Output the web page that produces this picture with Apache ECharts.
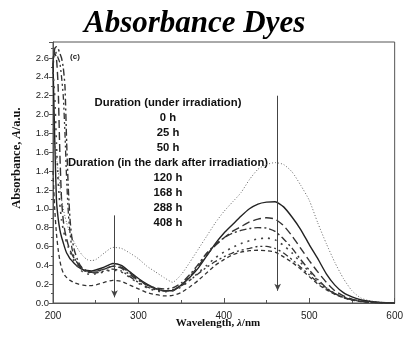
<!DOCTYPE html>
<html>
<head>
<meta charset="utf-8">
<script src="https://cdn.jsdelivr.net/npm/echarts@6/dist/echarts.min.js"></script>
<style>
  html, body { margin: 0; padding: 0; background: #fff; }
  #chart { width: 406px; height: 339px; }
</style>
</head>
<body>
<div id="chart"></div>
<script>
// wavelength grid (nm)
const wl = [200,202,204,206,208,210,212,214,216,218,220,222,225,230,235,240,245,250,260,270,280,290,300,310,320,330,340,350,360,370,380,390,400,410,420,430,440,450,460,470,480,490,500,510,520,530,540,550,560,570,580,590,600];

// absorbance, one array per curve
const dotted = [1.85,1.70,1.55,1.40,1.25,1.10,1.00,0.92,0.85,0.79,0.74,0.70,0.64,0.56,0.50,0.46,0.45,0.46,0.53,0.59,0.58,0.53,0.47,0.39,0.33,0.27,0.22,0.30,0.43,0.57,0.71,0.85,0.97,1.07,1.17,1.31,1.42,1.47,1.49,1.47,1.39,1.25,1.09,0.85,0.63,0.43,0.26,0.13,0.055,0.025,0.01,0.004,0];
const solid = [2.55,1.75,1.10,0.90,0.78,0.70,0.64,0.58,0.53,0.50,0.47,0.45,0.42,0.38,0.355,0.345,0.34,0.35,0.38,0.42,0.40,0.33,0.26,0.20,0.155,0.13,0.13,0.19,0.27,0.37,0.50,0.63,0.74,0.83,0.92,1.00,1.05,1.07,1.075,1.02,0.91,0.78,0.62,0.47,0.31,0.19,0.11,0.065,0.035,0.018,0.008,0.003,0];
const longDash = [2.60,2.65,2.60,2.30,1.60,1.10,0.88,0.76,0.68,0.61,0.56,0.52,0.47,0.41,0.37,0.34,0.33,0.335,0.36,0.39,0.38,0.32,0.25,0.19,0.15,0.13,0.135,0.19,0.28,0.39,0.51,0.61,0.69,0.76,0.81,0.86,0.89,0.905,0.89,0.82,0.71,0.58,0.45,0.33,0.22,0.13,0.075,0.04,0.022,0.01,0.005,0.002,0];
const dashDot = [2.50,2.70,2.72,2.70,2.65,2.60,2.50,2.30,1.70,1.20,0.88,0.70,0.56,0.43,0.36,0.33,0.325,0.33,0.36,0.39,0.37,0.30,0.24,0.19,0.16,0.15,0.16,0.21,0.30,0.41,0.53,0.62,0.69,0.74,0.77,0.79,0.80,0.795,0.76,0.68,0.58,0.46,0.35,0.25,0.16,0.10,0.06,0.035,0.02,0.01,0.005,0.002,0];
const sparseDot = [2.45,2.20,1.70,1.30,1.05,0.88,0.78,0.70,0.64,0.59,0.54,0.50,0.44,0.37,0.33,0.31,0.30,0.31,0.33,0.35,0.33,0.27,0.21,0.16,0.13,0.12,0.13,0.17,0.24,0.32,0.40,0.48,0.54,0.59,0.63,0.66,0.68,0.69,0.67,0.61,0.53,0.43,0.33,0.24,0.16,0.10,0.06,0.035,0.018,0.008,0.004,0.001,0];
const dashDotDot = [2.55,2.68,2.65,2.60,2.55,2.40,2.20,1.80,1.30,0.95,0.74,0.59,0.48,0.40,0.35,0.33,0.32,0.32,0.34,0.36,0.34,0.28,0.22,0.17,0.14,0.13,0.14,0.18,0.24,0.31,0.38,0.44,0.49,0.53,0.56,0.58,0.60,0.60,0.58,0.53,0.46,0.38,0.30,0.22,0.15,0.10,0.06,0.035,0.018,0.008,0.004,0.001,0];
const shortDash = [1.40,1.00,0.74,0.57,0.45,0.37,0.32,0.29,0.27,0.25,0.24,0.23,0.215,0.20,0.19,0.185,0.185,0.19,0.22,0.24,0.23,0.19,0.15,0.11,0.09,0.075,0.08,0.11,0.17,0.24,0.32,0.40,0.46,0.51,0.54,0.555,0.56,0.555,0.54,0.49,0.43,0.36,0.28,0.20,0.14,0.09,0.055,0.03,0.016,0.008,0.004,0.001,0];

// arrows [wavelength, from, to]
const arrows = [[272, 0.93, 0.06], [463, 2.2, 0.13]];

const notes = ['Duration (under irradiation)', '0 h', '25 h', '50 h',
  'Duration (in the dark after irradiation)', '120 h', '168 h', '288 h', '408 h'];

const pairs = arr => arr.map((v, i) => [wl[i], v]);

const chart = echarts.init(document.getElementById('chart'));

function line(data, type, width, color) {
  return {
    type: 'line', data: pairs(data), showSymbol: false, smooth: 0.2,
    lineStyle: { type: type, width: width, color: color },
    animation: false
  };
}

const series = [
  line(dotted, [1, 2], 1, '#666'),
  line(solid, 'solid', 1.4, '#222'),
  line(longDash, [8, 4], 1.4, '#333'),
  line(dashDot, [7, 3, 2, 3], 1.4, '#333'),
  line(sparseDot, [2, 5], 1.6, '#444'),
  line(dashDotDot, [6, 3, 2, 3, 2, 3], 1.3, '#333'),
  line(shortDash, [4, 3], 1.3, '#333')
];

series[1].markLine = {
  silent: true,
  symbol: ['none', 'arrow'],
  symbolSize: [5, 7],
  label: { show: false },
  lineStyle: { type: 'solid', color: '#444', width: 1 },
  data: arrows.map(a => [{ coord: [a[0], a[1]] }, { coord: [a[0], a[2]] }])
};

const noteText = notes.map((t, i) => ({
  type: 'text', x: 168, y: 103 + i * 15,
  style: {
    text: t, fill: '#111', font: 'bold 11.3px "Liberation Sans", Arial',
    textAlign: 'center', textVerticalAlign: 'middle'
  }
}));

chart.setOption({
  animation: false,
  title: {
    text: 'Absorbance Dyes', left: 79, top: 3,
    textStyle: { fontFamily: 'Liberation Serif', fontStyle: 'italic', fontWeight: 'bold', fontSize: 31, color: '#000' }
  },
  grid: { left: 53, right: 11, top: 42, bottom: 36, show: true, borderColor: '#555', borderWidth: 1 },
  xAxis: {
    type: 'value', min: 200, max: 600, interval: 100,
    axisLine: { lineStyle: { color: '#555' } },
    axisTick: { inside: true, length: 5, lineStyle: { color: '#555' } },
    minorTick: { show: true, splitNumber: 2, length: 3, lineStyle: { color: '#555' } },
    axisLabel: { color: '#222', fontSize: 10, fontFamily: 'Liberation Sans', margin: 8 },
    splitLine: { show: false }
  },
  yAxis: {
    type: 'value', min: 0, max: 2.77, interval: 0.2,
    axisLine: { show: true, lineStyle: { color: '#555' } },
    axisTick: { show: true, length: 4, lineStyle: { color: '#555' } },
    minorTick: { show: true, splitNumber: 2, length: 2, lineStyle: { color: '#555' } },
    axisLabel: {
      color: '#222', fontSize: 9.5, fontFamily: 'Liberation Sans', margin: 4,
      formatter: v => (v > 2.7 ? '' : v.toFixed(1))
    },
    splitLine: { show: false }
  },
  graphic: [
    ...noteText,
    {
      type: 'text', x: 75, y: 57,
      style: { text: '(c)', fill: '#222', font: 'bold 8px "Liberation Sans", Arial', textAlign: 'center', textVerticalAlign: 'middle' }
    },
    {
      type: 'text', x: 17, y: 158, rotation: Math.PI / 2,
      style: {
        text: '{n|Absorbance, }{i|A}{n|/a.u.}', textAlign: 'center', textVerticalAlign: 'middle',
        rich: {
          n: { font: 'bold 12.5px "Liberation Serif"', fill: '#111' },
          i: { font: 'italic bold 12.5px "Liberation Serif"', fill: '#111' }
        }
      }
    },
    {
      type: 'text', x: 218, y: 323,
      style: {
        text: '{n|Wavelength, }{i|λ}{n|/nm}', textAlign: 'center', textVerticalAlign: 'middle',
        rich: {
          n: { font: 'bold 11px "Liberation Serif"', fill: '#111' },
          i: { font: 'italic bold 11px "Liberation Serif"', fill: '#111' }
        }
      }
    }
  ],
  series: series
});
</script>
</body>
</html>
